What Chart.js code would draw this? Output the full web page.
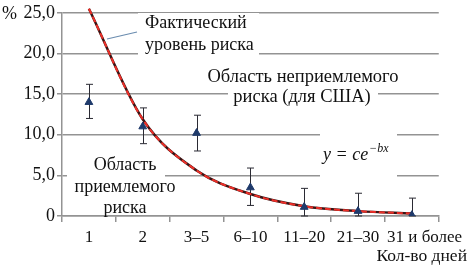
<!DOCTYPE html>
<html>
<head>
<meta charset="utf-8">
<script src="https://cdn.jsdelivr.net/npm/chart.js@4/dist/chart.umd.min.js"></script>
<style>
  html, body { margin: 0; padding: 0; background: #fff; }
  #wrap { width: 469px; height: 267px; }
</style>
</head>
<body>
<div id="wrap"><canvas id="chart" width="469" height="267"></canvas></div>
<script>
const CATEGORIES = ["1", "2", "3–5", "6–10", "11–20", "21–30", "31 и более"];
const RISK = [14.0, 11.0, 10.2, 3.5, 1.1, 0.6, 0.1];
const RISK_HIGH = [16.2, 13.3, 12.4, 5.9, 3.4, 2.8, 2.2];
const RISK_LOW = [12.0, 8.9, 8.0, 1.3, 0, 0, 0];
const TREND = [25.5, 11.9, 5.6, 2.7, 1.2, 0.6, 0.3];
const Y_TICKS = [0, 5, 10, 15, 20, 25];

const SERIF = '"Liberation Serif", "Times New Roman", serif';
const GRID = '#939393';

// white boxes + labels, then error bars (under the marks)
const notes = {
  id: 'notes',
  beforeDatasetsDraw(chart) {
    const ctx = chart.ctx;
    ctx.save();
    ctx.fillStyle = '#fff';
    ctx.fillRect(138, 13, 121, 42);
    ctx.fillRect(202, 66, 202, 21);
    ctx.fillRect(228, 86, 150, 20);
    ctx.fillRect(320, 133, 77, 44);
    ctx.fillRect(67, 146, 98, 68);

    ctx.fillStyle = '#111';
    ctx.font = '18px ' + SERIF;
    ctx.textBaseline = 'middle';
    ctx.textAlign = 'left';
    ctx.fillText('Фактический', 145, 23);
    ctx.fillText('уровень риска', 145, 45);
    ctx.textAlign = 'center';
    ctx.font = '18.5px ' + SERIF;
    ctx.fillText('Область неприемлемого', 303, 77);
    ctx.fillText('риска (для США)', 302, 97);
    ctx.font = '18px ' + SERIF;
    ctx.fillText('Область', 125, 165);
    ctx.fillText('приемлемого', 125, 187);
    ctx.fillText('риска', 125, 208);

    ctx.textAlign = 'left';
    ctx.textBaseline = 'alphabetic';
    ctx.font = 'italic 18px ' + SERIF;
    ctx.fillText('y = ce', 323, 160);
    const w = ctx.measureText('y = ce').width;
    ctx.font = 'italic 12px ' + SERIF;
    ctx.fillText('−bx', 323 + w + 1, 152);

    ctx.font = '18px ' + SERIF;
    ctx.textBaseline = 'middle';
    ctx.fillText('%', 2, 14);
    ctx.textAlign = 'right';
    ctx.font = '17.5px ' + SERIF;
    ctx.fillText('Кол-во дней', 467, 256);

    ctx.strokeStyle = '#6a8caf';
    ctx.lineWidth = 1.2;
    ctx.beginPath();
    ctx.moveTo(107, 39);
    ctx.lineTo(137, 32);
    ctx.stroke();

    // error bars
    const x = chart.scales.x, y = chart.scales.y;
    ctx.strokeStyle = '#2a2a33';
    ctx.lineWidth = 1;
    RISK.forEach((v, i) => {
      const px = Math.round(x.getPixelForValue(i)) + 0.5;
      const top = y.getPixelForValue(RISK_HIGH[i]);
      const bot = y.getPixelForValue(RISK_LOW[i]);
      ctx.beginPath();
      ctx.moveTo(px, top);
      ctx.lineTo(px, bot);
      ctx.moveTo(px - 3.5, top);
      ctx.lineTo(px + 3.5, top);
      ctx.moveTo(px - 3.5, bot);
      ctx.lineTo(px + 3.5, bot);
      ctx.stroke();
    });
    ctx.restore();
  }
};

new Chart(document.getElementById('chart').getContext('2d'), {
  type: 'line',
  data: {
    labels: CATEGORIES,
    datasets: [{
      data: RISK,
      showLine: false,
      pointStyle: 'triangle',
      pointRadius: 4.5,
      backgroundColor: '#1f3a6b',
      borderColor: '#1f3a6b',
      order: 0
    }, {
      data: TREND,
      borderColor: '#ee2f28',
      borderWidth: 2,
      borderDash: [6, 3],
      pointRadius: 0,
      cubicInterpolationMode: 'monotone',
      clip: false,
      order: 1
    }, {
      data: TREND,
      borderColor: '#3a1414',
      borderWidth: 2.5,
      pointRadius: 0,
      cubicInterpolationMode: 'monotone',
      clip: false,
      order: 2
    }]
  },
  options: {
    responsive: false,
    animation: false,
    layout: {
      padding: { top: 11, right: 26, left: 0, bottom: 0 }
    },
    plugins: {
      legend: { display: false },
      tooltip: { enabled: false }
    },
    scales: {
      x: {
        offset: true,
        afterFit(scale) { scale.height = 51; },
        border: { color: GRID, width: 1.5 },
        grid: { offset: true, drawOnChartArea: false, tickLength: 6, color: GRID, lineWidth: 1.5 },
        ticks: {
          color: '#111',
          font: { family: SERIF, size: 17 },
          padding: 5,
          maxRotation: 0,
          autoSkip: false,
          // last label sits to the right of its slot in the original
          callback(v, i) {
            const s = this.getLabelForValue(v);
            return i === CATEGORIES.length - 1 ? '\u2003\u2002' + s : s;
          }
        }
      },
      y: {
        min: 0,
        max: 25,
        afterFit(scale) { scale.width = 62; },
        afterBuildTicks(scale) { scale.ticks = Y_TICKS.map(v => ({ value: v })); },
        border: { color: GRID, width: 1.5 },
        grid: { color: GRID, lineWidth: 1.5, tickLength: 5 },
        ticks: {
          color: '#111',
          font: { family: SERIF, size: 18 },
          padding: 2,
          callback: v => v === 0 ? '0' : v.toFixed(1).replace('.', ',')
        }
      }
    }
  },
  plugins: [notes]
});
</script>
</body>
</html>
